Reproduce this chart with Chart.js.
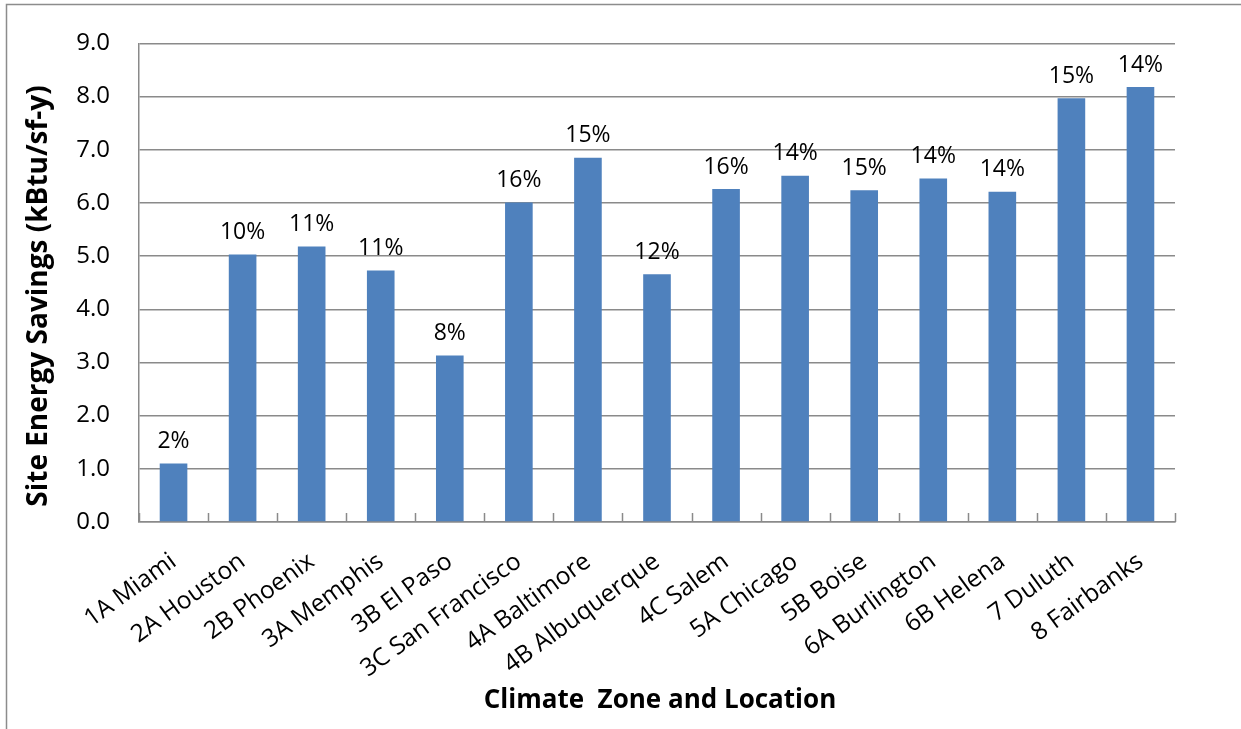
<!DOCTYPE html>
<html>
<head>
<meta charset="utf-8">
<script src="https://cdn.jsdelivr.net/npm/chart.js@4.4.1/dist/chart.umd.min.js"></script>
<style>
  html, body { margin: 0; padding: 0; background: #ffffff; }
  #wrap { width: 1241px; height: 729px; position: relative; }
</style>
</head>
<body>
<div id="wrap"><canvas id="c" width="1241" height="729"></canvas></div>
<script>
// Site energy savings by climate zone (kBtu/sf-y) and the matching percentage savings
const categories = ['1A Miami', '2A Houston', '2B Phoenix', '3A Memphis', '3B El Paso',
  '3C San Francisco', '4A Baltimore', '4B Albuquerque', '4C Salem', '5A Chicago',
  '5B Boise', '6A Burlington', '6B Helena', '7 Duluth', '8 Fairbanks'];
const savings = [1.10, 5.03, 5.18, 4.73, 3.13, 6.01, 6.85, 4.66, 6.26, 6.51, 6.24, 6.46, 6.21, 7.97, 8.18];
const savingsPct = ['2%', '10%', '11%', '11%', '8%', '16%', '15%', '12%', '16%', '14%', '15%', '14%', '14%', '15%', '14%'];
const yMin = 0, yMax = 9, yStep = 1;
const yTitle = 'Site Energy Savings (kBtu/sf-y)';
const xTitle = 'Climate  Zone and Location';

const FONT = '"Open Sans", "Liberation Sans", sans-serif';
const AXIS_GREY = '#8a8a8a';

// Outer chart frame and white background
const framePlugin = {
  id: 'frame',
  beforeDraw(chart) {
    const ctx = chart.ctx;
    ctx.save();
    ctx.fillStyle = '#ffffff';
    ctx.fillRect(0, 0, chart.width, chart.height);
    ctx.strokeStyle = '#8c8c8c';
    ctx.lineWidth = 1.5;
    ctx.beginPath();
    ctx.moveTo(6.5, chart.height + 2);
    ctx.lineTo(6.5, 4.5);
    ctx.lineTo(chart.width + 2, 4.5);
    ctx.stroke();
    ctx.restore();
  }
};

// Inside tick marks on the category axis, between categories
const innerTicksPlugin = {
  id: 'innerTicks',
  afterDraw(chart) {
    const xs = chart.scales.x;
    const bottom = chart.chartArea.bottom;
    const ctx = chart.ctx;
    ctx.save();
    ctx.strokeStyle = AXIS_GREY;
    ctx.lineWidth = 1.5;
    ctx.beginPath();
    for (let i = 0; i <= categories.length; i++) {
      const x = Math.round(xs.getPixelForValue(i - 0.5)) + 0.5;
      ctx.moveTo(x, bottom);
      ctx.lineTo(x, bottom - 9);
    }
    ctx.stroke();
    ctx.restore();
  }
};

// Percentage labels above each bar
const barLabelsPlugin = {
  id: 'barLabels',
  afterDatasetsDraw(chart) {
    const meta = chart.getDatasetMeta(0);
    const ctx = chart.ctx;
    ctx.save();
    ctx.font = '23px ' + FONT;
    ctx.fillStyle = '#000000';
    ctx.textAlign = 'center';
    ctx.textBaseline = 'middle';
    meta.data.forEach((bar, i) => {
      ctx.fillText(savingsPct[i], bar.x, bar.y - 22);
    });
    ctx.restore();
  }
};

// Axis titles
const axisTitlesPlugin = {
  id: 'axisTitles',
  afterDraw(chart) {
    const ctx = chart.ctx;
    const area = chart.chartArea;
    ctx.save();
    ctx.fillStyle = '#000000';
    ctx.textAlign = 'center';
    ctx.textBaseline = 'middle';
    ctx.font = 'bold 26px ' + FONT;
    ctx.fillText(xTitle, (area.left + area.right) / 2 + 3, 701);
    ctx.font = 'bold 28px ' + FONT;
    ctx.translate(39, 296);
    ctx.rotate(-Math.PI / 2);
    ctx.fillText(yTitle, 0, 0);
    ctx.restore();
  }
};

new Chart(document.getElementById('c'), {
  type: 'bar',
  data: {
    labels: categories,
    datasets: [{
      label: 'Site Energy Savings',
      data: savings,
      backgroundColor: '#4F81BD',
      borderWidth: 0,
      categoryPercentage: 1.0,
      barPercentage: 0.4
    }]
  },
  options: {
    responsive: false,
    animation: false,
    devicePixelRatio: 1,
    layout: { padding: { left: 0, top: 41, right: 66, bottom: 0 } },
    plugins: {
      legend: { display: false },
      tooltip: { enabled: false },
      title: { display: false }
    },
    scales: {
      x: {
        offset: true,
        grid: { display: false, drawTicks: false },
        border: { display: true, color: AXIS_GREY, width: 1.5 },
        ticks: {
          autoSkip: false,
          maxRotation: 36,
          minRotation: 36,
          padding: 25,
          color: '#000000',
          font: { family: FONT, size: 24.5 }
        },
        afterFit(scale) { scale.height = 207; }
      },
      y: {
        min: yMin,
        max: yMax,
        grid: { color: AXIS_GREY, lineWidth: 1.5, drawTicks: false },
        border: { display: true, color: AXIS_GREY, width: 1.5 },
        ticks: {
          stepSize: yStep,
          padding: 29,
          color: '#000000',
          font: { family: FONT, size: 24 },
          callback: (v) => Number(v).toFixed(1)
        },
        afterFit(scale) { scale.width = 139; }
      }
    }
  },
  plugins: [framePlugin, innerTicksPlugin, barLabelsPlugin, axisTitlesPlugin]
});
</script>
</body>
</html>
